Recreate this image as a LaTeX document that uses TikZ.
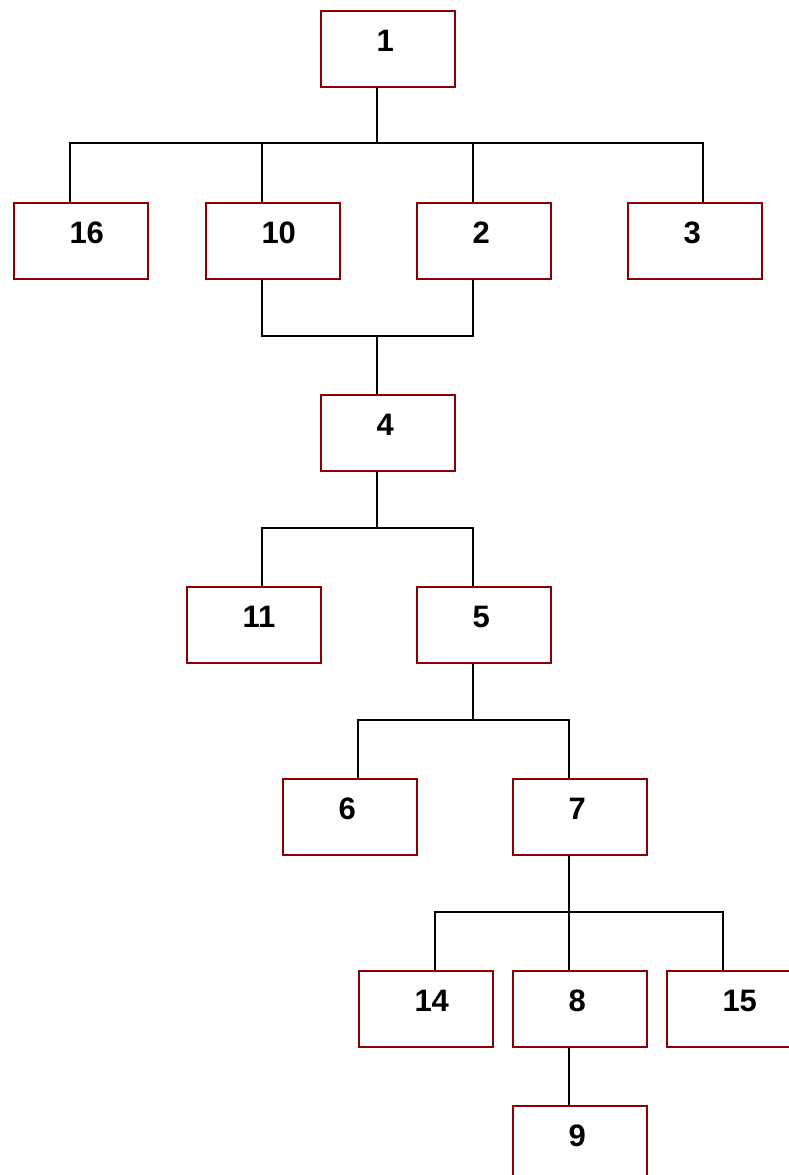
\documentclass[tikz,border=0pt]{standalone}
\usepackage{fontspec}
\setmainfont{Liberation Sans}
\usetikzlibrary{calc}
\definecolor{boxred}{HTML}{8B0000}
\begin{document}
\begin{tikzpicture}[x=1pt,y=-1pt,
  tbox/.style={rectangle, draw=boxred, line width=2pt, fill=white,
    minimum width=134pt, minimum height=76pt, inner sep=0pt,
    text width=134pt, align=left, text height=40.5pt, text depth=35.5pt,
    font=\fontsize{31}{31}\selectfont\bfseries,
    execute at begin node={\hspace*{55.5pt}}, anchor=north west},
  conn/.style={draw=black, line width=1.2pt}]
\useasboundingbox (0,0) rectangle (789,1175);
\node[tbox] (n1)  at (320,10)    {1};
\node[tbox] (n16) at (13,202)   {16};
\node[tbox] (n10) at (205,202)  {10};
\node[tbox] (n2)  at (416,202)  {2};
\node[tbox] (n3)  at (627,202)  {3};
\node[tbox] (n4)  at (320,394)  {4};
\node[tbox] (n11) at (186,586)  {11};
\node[tbox] (n5)  at (416,586)  {5};
\node[tbox] (n6)  at (282,778)  {6};
\node[tbox] (n7)  at (512,778)  {7};
\node[tbox] (n14) at (358,970)  {14};
\node[tbox] (n8)  at (512,970)  {8};
\node[tbox] (n15) at (666,970)  {15};
\node[tbox] (n9)  at (512,1105) {9};
\coordinate (j1) at (377,143);
\coordinate (j2) at (377,336);
\coordinate (j3) at (377,528);
\coordinate (j4) at (473,720);
\coordinate (j5) at (569,912);
% 1 -> 16,10,2,3
\draw[conn] ([xshift=57pt]n1.south west) -- (j1);
\draw[conn] ([xshift=57pt]n16.north west) |- (j1) -| ([xshift=76pt]n3.north west);
\draw[conn] ([xshift=57pt]n10.north west) -- ([xshift=57pt]n10.north west |- j1);
\draw[conn] ([xshift=57pt]n2.north west) -- ([xshift=57pt]n2.north west |- j1);
% 10,2 -> 4
\draw[conn] ([xshift=57pt]n10.south west) |- (j2) -| ([xshift=57pt]n2.south west);
\draw[conn] (j2) -- ([xshift=57pt]n4.north west);
% 4 -> 11,5
\draw[conn] ([xshift=57pt]n4.south west) -- (j3);
\draw[conn] ([xshift=76pt]n11.north west) |- (j3) -| ([xshift=57pt]n5.north west);
% 5 -> 6,7
\draw[conn] ([xshift=57pt]n5.south west) -- (j4);
\draw[conn] ([xshift=76pt]n6.north west) |- (j4) -| ([xshift=57pt]n7.north west);
% 7 -> 14,8,15
\draw[conn] ([xshift=57pt]n7.south west) -- (j5);
\draw[conn] ([xshift=77pt]n14.north west) |- (j5) -| ([xshift=57pt]n15.north west);
\draw[conn] (j5) -- ([xshift=57pt]n8.north west);
% 8 -> 9
\draw[conn] ([xshift=57pt]n8.south west) -- ([xshift=57pt]n9.north west);
\end{tikzpicture}
\end{document}
